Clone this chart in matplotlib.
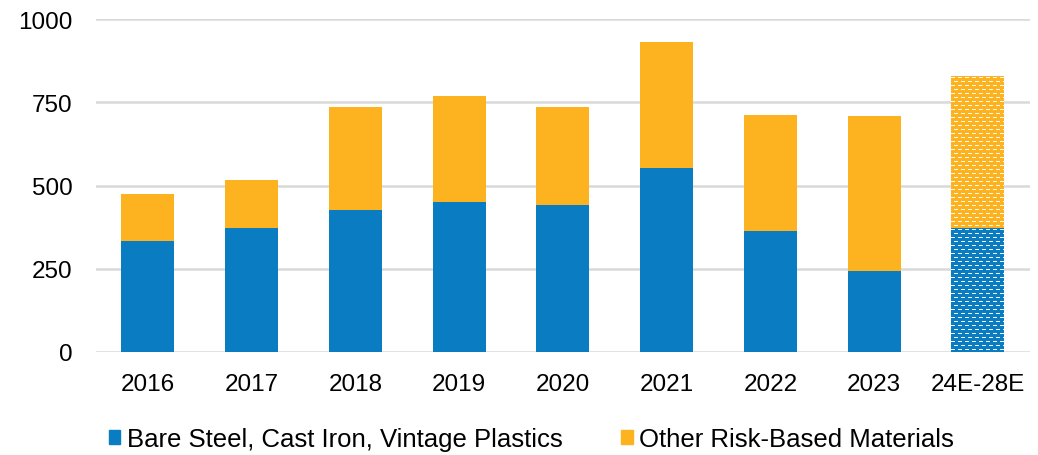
import matplotlib
matplotlib.use("Agg")
import matplotlib.pyplot as plt
import numpy as np
from matplotlib.patches import Patch

categories = ["2016", "2017", "2018", "2019", "2020", "2021", "2022", "2023", "24E-28E"]
bare_steel = [333, 372, 426, 450, 441, 552, 363, 243, 372]
other_risk = [142, 144, 309, 318, 294, 378, 348, 465, 456]
forecast = [False] * 8 + [True]

blue = "#0A7CC2"
orange = "#FDB21F"

plt.rcParams["font.family"] = ["Liberation Sans", "DejaVu Sans"]

fig = plt.figure(figsize=(10.38, 4.56), dpi=100)
ax = fig.add_axes([0.0925, 0.226, 0.8995, 0.73])

x = np.arange(len(categories))
w = 0.51


def texture(patch):
    """Overlay a white brick-dash texture clipped to the patch."""
    fig.canvas.draw()
    bb = patch.get_window_extent()
    wpx, hpx = int(round(bb.width)), int(round(bb.height))
    img = np.zeros((hpx, wpx, 4))
    img[..., :3] = 1.0
    py, px, dl = 4, 7, 4
    for r in range(1, hpx, py):
        off = 0 if (r // py) % 2 == 0 else 3
        for c in range(-px, wpx, px):
            c0 = max(c + off, 0)
            c1 = min(c + off + dl, wpx)
            if c1 > c0:
                img[r:r + 1, c0:c1, 3] = 0.95
    xy = patch.get_xy()
    ext = [xy[0], xy[0] + patch.get_width(), xy[1], xy[1] + patch.get_height()]
    im = ax.imshow(img, extent=ext, origin="upper", interpolation="nearest",
                   aspect="auto", zorder=4)
    im.set_clip_path(patch)


ax.set_xlim(-0.5, len(categories) - 0.5)
ax.set_ylim(0, 1000)

patches_tex = []
for i in range(len(categories)):
    b1 = ax.bar(x[i], bare_steel[i], w, color=blue, linewidth=0, zorder=3)
    b2 = ax.bar(x[i], other_risk[i], w, bottom=bare_steel[i], color=orange, linewidth=0, zorder=3)
    if forecast[i]:
        patches_tex += [b1[0], b2[0]]

ax.set_yticks([0, 250, 500, 750, 1000])
ax.set_xticks(x)
ax.set_xticklabels(categories)
ax.grid(axis="y", color="#d9d9d9", linewidth=1.8, zorder=0)
for s in ax.spines.values():
    s.set_visible(False)
ax.tick_params(axis="both", length=0, labelsize=17.5, colors="black")
ax.tick_params(axis="y", pad=17)
ax.tick_params(axis="x", pad=15)

for p in patches_tex:
    texture(p)
ax.set_xlim(-0.5, len(categories) - 0.5)
ax.set_ylim(0, 1000)

handles = [Patch(color=blue, label="Bare Steel, Cast Iron, Vintage Plastics"),
           Patch(color=orange, label="Other Risk-Based Materials")]
fig.legend(handles=handles, loc="center", bbox_to_anchor=(0.512, 0.035), ncol=2, frameon=False,
           fontsize=18.5, handlelength=0.45, handleheight=0.45, handletextpad=0.25, columnspacing=2.3)

fig.savefig("out.png", dpi=100)
